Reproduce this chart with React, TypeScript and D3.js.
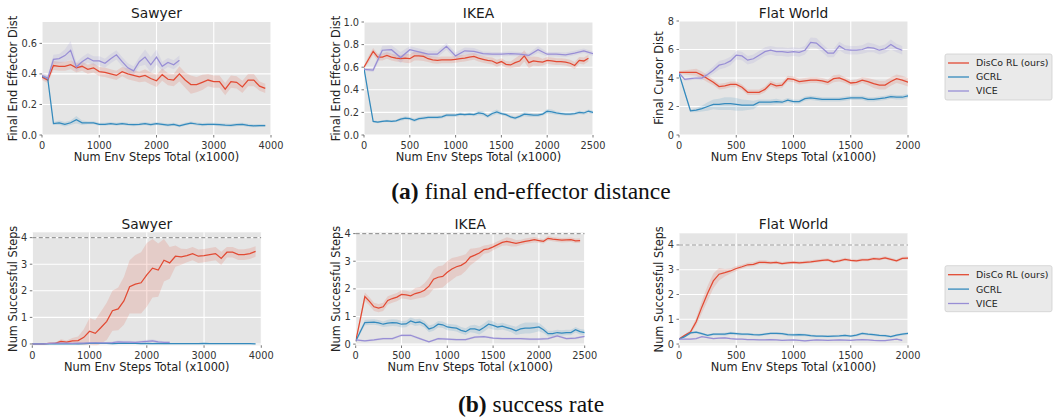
import React from 'react';
import * as d3 from 'd3';

const RED = '#E24A33';
const BLUE = '#348ABD';
const PURPLE = '#988ED5';

const legendLabels = ['DisCo RL (ours)', 'GCRL', 'VICE'];
const legendColors = [RED, BLUE, PURPLE];

// (a) final end-effector distance
const sawyerDistDisco = [0.38, 0.36, 0.455, 0.45, 0.45, 0.46, 0.44, 0.45, 0.43, 0.44, 0.415, 0.41, 0.40, 0.39, 0.415, 0.40, 0.39, 0.38, 0.39, 0.37, 0.355, 0.395, 0.365, 0.36, 0.40, 0.36, 0.33, 0.33, 0.345, 0.36, 0.35, 0.35, 0.30, 0.35, 0.345, 0.315, 0.36, 0.36, 0.32, 0.305];
const sawyerDistDiscoSd = [0.02, 0.02, 0.03, 0.03, 0.03, 0.03, 0.03, 0.03, 0.03, 0.03, 0.03, 0.03, 0.03, 0.03, 0.03, 0.035, 0.035, 0.035, 0.04, 0.04, 0.04, 0.04, 0.04, 0.04, 0.05, 0.05, 0.06, 0.05, 0.05, 0.04, 0.04, 0.04, 0.04, 0.04, 0.04, 0.04, 0.04, 0.04, 0.03, 0.03];
const sawyerDistGcrl = [0.385, 0.37, 0.075, 0.08, 0.07, 0.08, 0.10, 0.08, 0.08, 0.08, 0.07, 0.07, 0.075, 0.07, 0.075, 0.07, 0.068, 0.07, 0.075, 0.068, 0.075, 0.07, 0.065, 0.07, 0.06, 0.07, 0.078, 0.072, 0.068, 0.07, 0.07, 0.068, 0.065, 0.063, 0.068, 0.07, 0.063, 0.06, 0.062, 0.062];
const sawyerDistGcrlSd = [0.01, 0.01, 0.01, 0.015, 0.015, 0.015, 0.025, 0.015, 0.01, 0.01, 0.01, 0.01, 0.01, 0.01, 0.01, 0.01, 0.01, 0.01, 0.01, 0.01, 0.01, 0.01, 0.01, 0.01, 0.01, 0.01, 0.01, 0.01, 0.01, 0.01, 0.01, 0.01, 0.01, 0.01, 0.01, 0.01, 0.01, 0.01, 0.01, 0.01];
const sawyerDistVice = [0.39, 0.37, 0.495, 0.50, 0.52, 0.555, 0.445, 0.48, 0.505, 0.485, 0.485, 0.47, 0.50, 0.525, 0.48, 0.44, 0.42, 0.48, 0.51, 0.46, 0.51, 0.45, 0.475, 0.46, 0.49];
const sawyerDistViceSd = [0.02, 0.02, 0.03, 0.03, 0.04, 0.06, 0.03, 0.03, 0.03, 0.03, 0.03, 0.03, 0.03, 0.03, 0.03, 0.03, 0.03, 0.03, 0.05, 0.05, 0.05, 0.03, 0.03, 0.03, 0.03];

const ikeaDistDisco = [0.6, 0.67, 0.74, 0.69, 0.69, 0.705, 0.69, 0.68, 0.675, 0.68, 0.675, 0.70, 0.70, 0.695, 0.675, 0.665, 0.66, 0.665, 0.665, 0.665, 0.67, 0.675, 0.68, 0.69, 0.695, 0.68, 0.67, 0.66, 0.655, 0.635, 0.65, 0.625, 0.62, 0.64, 0.655, 0.70, 0.64, 0.655, 0.65, 0.645, 0.66, 0.655, 0.65, 0.65, 0.645, 0.635, 0.615, 0.66, 0.655, 0.68];
const ikeaDistDiscoSd = [0.01, 0.03, 0.03, 0.03, 0.03, 0.03, 0.03, 0.03, 0.03, 0.04, 0.04, 0.04, 0.04, 0.04, 0.03, 0.03, 0.03, 0.03, 0.03, 0.03, 0.03, 0.03, 0.03, 0.03, 0.03, 0.03, 0.03, 0.03, 0.03, 0.03, 0.03, 0.03, 0.03, 0.04, 0.05, 0.05, 0.05, 0.04, 0.04, 0.03, 0.03, 0.03, 0.03, 0.03, 0.03, 0.03, 0.03, 0.03, 0.03, 0.03];
const ikeaDistGcrl = [0.59, 0.35, 0.12, 0.115, 0.12, 0.125, 0.12, 0.125, 0.14, 0.15, 0.145, 0.13, 0.145, 0.15, 0.155, 0.155, 0.155, 0.16, 0.175, 0.175, 0.175, 0.185, 0.18, 0.185, 0.18, 0.195, 0.19, 0.165, 0.19, 0.205, 0.19, 0.18, 0.16, 0.15, 0.165, 0.185, 0.18, 0.175, 0.175, 0.185, 0.21, 0.205, 0.195, 0.19, 0.185, 0.185, 0.19, 0.20, 0.195, 0.21, 0.20];
const ikeaDistGcrlSd = [0.01, 0.01, 0.01, 0.01, 0.01, 0.01, 0.01, 0.01, 0.015, 0.015, 0.015, 0.015, 0.015, 0.015, 0.015, 0.015, 0.015, 0.015, 0.015, 0.015, 0.015, 0.015, 0.015, 0.015, 0.015, 0.02, 0.02, 0.015, 0.02, 0.02, 0.015, 0.015, 0.015, 0.015, 0.015, 0.02, 0.02, 0.015, 0.015, 0.015, 0.02, 0.02, 0.015, 0.015, 0.015, 0.015, 0.015, 0.015, 0.015, 0.015, 0.015];
const ikeaDistVice = [0.58, 0.575, 0.75, 0.755, 0.685, 0.755, 0.735, 0.715, 0.715, 0.785, 0.70, 0.745, 0.74, 0.72, 0.715, 0.715, 0.72, 0.715, 0.705, 0.755, 0.715, 0.715, 0.71, 0.725, 0.745, 0.72];
const ikeaDistViceSd = [0.01, 0.02, 0.04, 0.04, 0.05, 0.03, 0.03, 0.03, 0.03, 0.03, 0.03, 0.03, 0.03, 0.02, 0.02, 0.02, 0.02, 0.02, 0.02, 0.03, 0.02, 0.02, 0.02, 0.02, 0.02, 0.02];

const flatDistDisco = [4.4, 4.4, 4.4, 4.4, 4.2, 3.95, 3.7, 3.4, 3.45, 3.55, 3.55, 3.35, 3.0, 3.0, 3.0, 3.2, 3.6, 3.45, 3.5, 3.95, 3.9, 3.75, 3.8, 3.85, 3.85, 3.8, 3.7, 3.95, 4.0, 3.85, 3.65, 3.7, 3.85, 3.75, 3.6, 3.5, 3.5, 3.75, 3.95, 3.85, 3.7];
const flatDistDiscoSd = [0.1, 0.15, 0.2, 0.25, 0.25, 0.25, 0.2, 0.2, 0.2, 0.2, 0.2, 0.2, 0.2, 0.2, 0.2, 0.2, 0.2, 0.2, 0.2, 0.2, 0.2, 0.2, 0.2, 0.2, 0.2, 0.2, 0.2, 0.25, 0.25, 0.2, 0.2, 0.2, 0.2, 0.25, 0.3, 0.3, 0.3, 0.3, 0.3, 0.3, 0.3];
const flatDistGcrl = [4.3, 3.0, 1.7, 1.75, 1.85, 2.0, 2.15, 2.15, 2.2, 2.2, 2.15, 2.1, 2.1, 2.1, 2.3, 2.3, 2.3, 2.35, 2.3, 2.45, 2.35, 2.35, 2.55, 2.6, 2.55, 2.5, 2.5, 2.5, 2.5, 2.55, 2.6, 2.6, 2.6, 2.5, 2.5, 2.55, 2.6, 2.7, 2.65, 2.65, 2.75];
const flatDistGcrlSd = [0.05, 0.1, 0.1, 0.15, 0.2, 0.3, 0.35, 0.4, 0.45, 0.45, 0.45, 0.4, 0.35, 0.3, 0.2, 0.2, 0.2, 0.2, 0.15, 0.15, 0.15, 0.15, 0.15, 0.15, 0.15, 0.15, 0.15, 0.15, 0.15, 0.15, 0.15, 0.15, 0.15, 0.15, 0.15, 0.15, 0.15, 0.15, 0.15, 0.15, 0.15];
const flatDistVice = [4.35, 3.9, 3.95, 4.0, 4.0, 4.25, 4.55, 4.9, 5.0, 5.2, 5.6, 5.55, 5.25, 5.35, 5.6, 5.85, 5.95, 5.85, 5.85, 5.8, 5.85, 5.8, 5.95, 6.5, 6.45, 6.1, 5.75, 5.75, 6.25, 6.0, 5.95, 5.95, 6.0, 6.15, 6.1, 5.95, 6.05, 6.35, 6.1, 5.95];
const flatDistViceSd = [0.05, 0.1, 0.1, 0.1, 0.15, 0.2, 0.25, 0.3, 0.3, 0.3, 0.3, 0.3, 0.3, 0.3, 0.3, 0.3, 0.3, 0.3, 0.3, 0.3, 0.3, 0.3, 0.3, 0.35, 0.35, 0.3, 0.3, 0.3, 0.3, 0.3, 0.3, 0.3, 0.3, 0.35, 0.3, 0.3, 0.3, 0.35, 0.3, 0.3];

// (b) success rate
const sawyerSuccDisco = [0, 0, 0, 0.02, 0.02, 0.1, 0.07, 0.12, 0.13, 0.25, 0.48, 0.4, 0.62, 0.85, 1.25, 1.32, 1.62, 2.15, 2.25, 2.3, 2.6, 2.85, 2.78, 3.15, 3.05, 3.3, 3.28, 3.32, 3.4, 3.3, 3.32, 3.36, 3.4, 3.22, 3.45, 3.45, 3.36, 3.36, 3.4, 3.48];
const sawyerSuccDiscoSd = [0, 0, 0.01, 0.02, 0.03, 0.08, 0.06, 0.1, 0.15, 0.3, 0.5, 0.5, 0.6, 0.7, 0.75, 0.8, 0.9, 1.0, 1.1, 1.15, 1.2, 1.1, 1.0, 0.8, 0.6, 0.4, 0.3, 0.25, 0.25, 0.25, 0.25, 0.25, 0.25, 0.25, 0.2, 0.2, 0.2, 0.2, 0.2, 0.2];
const sawyerSuccGcrl = [0, 0, 0, 0, 0, 0, 0, 0, 0, 0.01, 0.02, 0.03, 0.02, 0.02, 0.01, 0.02, 0.03, 0.02, 0.02, 0.01, 0.02, 0.01, 0.02, 0.01, 0.01, 0.01, 0.01, 0.01, 0.01, 0.01, 0.02, 0.01, 0.01, 0.01, 0.01, 0.01, 0.01, 0.01, 0.01, 0];
const sawyerSuccGcrlSd = [0.01, 0.01, 0.01, 0.01, 0.01, 0.01, 0.01, 0.01, 0.01, 0.02, 0.02, 0.03, 0.02, 0.02, 0.02, 0.02, 0.03, 0.02, 0.02, 0.02, 0.02, 0.02, 0.02, 0.02, 0.02, 0.02, 0.02, 0.02, 0.02, 0.02, 0.02, 0.02, 0.02, 0.02, 0.02, 0.02, 0.02, 0.02, 0.02, 0.01];
const sawyerSuccVice = [0, 0, 0, 0.02, 0.03, 0.03, 0.03, 0.02, 0.03, 0.03, 0.04, 0.04, 0.04, 0.04, 0.05, 0.08, 0.07, 0.07, 0.06, 0.08, 0.1, 0.12, 0.08, 0.06, 0.06];
const sawyerSuccViceSd = [0.01, 0.01, 0.01, 0.02, 0.02, 0.02, 0.02, 0.02, 0.02, 0.03, 0.03, 0.03, 0.03, 0.03, 0.04, 0.05, 0.05, 0.05, 0.04, 0.05, 0.06, 0.06, 0.05, 0.04, 0.04];

const ikeaSuccDisco = [0.1, 0.9, 1.72, 1.55, 1.35, 1.3, 1.35, 1.58, 1.65, 1.7, 1.8, 1.78, 1.75, 1.83, 1.87, 1.95, 2.1, 2.35, 2.42, 2.45, 2.6, 2.72, 2.8, 2.85, 2.95, 3.15, 3.22, 3.3, 3.42, 3.45, 3.52, 3.6, 3.68, 3.72, 3.68, 3.65, 3.68, 3.72, 3.75, 3.78, 3.75, 3.72, 3.83, 3.8, 3.78, 3.76, 3.77, 3.78, 3.74, 3.75];
const ikeaSuccDiscoSd = [0.05, 0.1, 0.15, 0.15, 0.15, 0.15, 0.15, 0.15, 0.15, 0.15, 0.15, 0.15, 0.15, 0.2, 0.2, 0.25, 0.3, 0.35, 0.4, 0.4, 0.4, 0.4, 0.35, 0.35, 0.3, 0.3, 0.25, 0.2, 0.15, 0.15, 0.12, 0.12, 0.12, 0.15, 0.15, 0.12, 0.1, 0.1, 0.1, 0.1, 0.08, 0.08, 0.08, 0.08, 0.08, 0.08, 0.08, 0.08, 0.08, 0.08];
const ikeaSuccGcrl = [0.1, 0.45, 0.78, 0.79, 0.8, 0.77, 0.72, 0.76, 0.78, 0.77, 0.72, 0.73, 0.84, 0.78, 0.8, 0.72, 0.55, 0.6, 0.72, 0.7, 0.62, 0.6, 0.58, 0.5, 0.45, 0.55, 0.55, 0.5, 0.6, 0.72, 0.68, 0.62, 0.65, 0.6, 0.55, 0.48, 0.55, 0.58, 0.58, 0.6, 0.62, 0.52, 0.38, 0.38, 0.42, 0.4, 0.42, 0.42, 0.52, 0.45, 0.42];
const ikeaSuccGcrlSd = [0.05, 0.08, 0.1, 0.1, 0.1, 0.1, 0.1, 0.12, 0.12, 0.12, 0.12, 0.12, 0.12, 0.12, 0.12, 0.12, 0.12, 0.12, 0.12, 0.12, 0.12, 0.12, 0.12, 0.12, 0.12, 0.12, 0.15, 0.15, 0.15, 0.15, 0.15, 0.12, 0.12, 0.12, 0.12, 0.15, 0.18, 0.2, 0.2, 0.18, 0.15, 0.12, 0.1, 0.1, 0.1, 0.1, 0.1, 0.1, 0.1, 0.1, 0.1];
const ikeaSuccVice = [0.15, 0.12, 0.15, 0.2, 0.2, 0.32, 0.32, 0.2, 0.08, 0.2, 0.18, 0.16, 0.16, 0.25, 0.27, 0.22, 0.2, 0.2, 0.2, 0.18, 0.18, 0.2, 0.3, 0.2, 0.22, 0.28];
const ikeaSuccViceSd = [0.03, 0.03, 0.04, 0.04, 0.04, 0.05, 0.05, 0.04, 0.03, 0.04, 0.04, 0.04, 0.04, 0.04, 0.04, 0.04, 0.04, 0.04, 0.04, 0.04, 0.04, 0.04, 0.04, 0.04, 0.04, 0.04];

const flatSuccDisco = [0.2, 0.35, 0.48, 0.9, 1.5, 2.05, 2.55, 2.82, 2.88, 2.95, 3.05, 3.12, 3.2, 3.22, 3.3, 3.3, 3.28, 3.3, 3.25, 3.28, 3.3, 3.28, 3.3, 3.32, 3.35, 3.38, 3.4, 3.32, 3.36, 3.42, 3.38, 3.36, 3.4, 3.4, 3.45, 3.43, 3.48, 3.42, 3.36, 3.46, 3.47];
const flatSuccDiscoSd = [0.02, 0.05, 0.08, 0.15, 0.25, 0.3, 0.3, 0.25, 0.15, 0.1, 0.1, 0.08, 0.08, 0.08, 0.08, 0.08, 0.06, 0.06, 0.06, 0.06, 0.06, 0.06, 0.06, 0.06, 0.06, 0.06, 0.06, 0.06, 0.06, 0.06, 0.06, 0.06, 0.06, 0.06, 0.06, 0.06, 0.06, 0.06, 0.06, 0.06, 0.06];
const flatSuccGcrl = [0.2, 0.3, 0.45, 0.48, 0.42, 0.35, 0.4, 0.4, 0.4, 0.44, 0.42, 0.4, 0.4, 0.38, 0.37, 0.4, 0.43, 0.43, 0.42, 0.38, 0.37, 0.38, 0.37, 0.34, 0.32, 0.32, 0.31, 0.32, 0.33, 0.35, 0.32, 0.36, 0.43, 0.4, 0.38, 0.35, 0.34, 0.3, 0.36, 0.4, 0.43];
const flatSuccGcrlSd = [0.03, 0.04, 0.05, 0.05, 0.05, 0.05, 0.05, 0.05, 0.06, 0.06, 0.06, 0.05, 0.05, 0.05, 0.05, 0.05, 0.05, 0.05, 0.05, 0.06, 0.06, 0.06, 0.05, 0.05, 0.05, 0.05, 0.05, 0.05, 0.05, 0.05, 0.05, 0.05, 0.05, 0.05, 0.05, 0.05, 0.05, 0.05, 0.05, 0.05, 0.05];
const flatSuccVice = [0.2, 0.2, 0.2, 0.22, 0.3, 0.26, 0.22, 0.24, 0.25, 0.22, 0.2, 0.2, 0.18, 0.18, 0.17, 0.17, 0.18, 0.17, 0.15, 0.16, 0.17, 0.15, 0.13, 0.15, 0.17, 0.16, 0.15, 0.16, 0.17, 0.16, 0.15, 0.17, 0.18, 0.17, 0.15, 0.14, 0.14, 0.17, 0.2, 0.15];
const flatSuccViceSd = [0.02, 0.02, 0.03, 0.03, 0.03, 0.03, 0.03, 0.03, 0.03, 0.03, 0.03, 0.03, 0.03, 0.03, 0.03, 0.03, 0.03, 0.03, 0.03, 0.03, 0.03, 0.03, 0.03, 0.03, 0.03, 0.03, 0.03, 0.03, 0.03, 0.03, 0.03, 0.03, 0.03, 0.03, 0.03, 0.03, 0.03, 0.03, 0.03, 0.03];

const sawyerXTicks = [0, 1000, 2000, 3000, 4000];
const ikeaXTicks = [0, 500, 1000, 1500, 2000, 2500];
const flatXTicks = [0, 500, 1000, 1500, 2000];
const sawyerDistYTicks = [0, 0.2, 0.4, 0.6];
const ikeaDistYTicks = [0, 0.2, 0.4, 0.6, 0.8, 1.0];
const flatDistYTicks = [0, 2, 4, 6, 8];
const succYTicks = [0, 1, 2, 3, 4];
const GOAL = 4;

type Series = { values: number[]; spread: number[]; step: number; color: string };
type PanelSpec = {
  id: string; left: number; top: number; width: number; height: number;
  xMax: number; yDomain: [number, number]; xTicks: number[]; yTicks: number[];
  yFmt: (v: number) => string; title: string; titleY: number; ylabel: string;
  ylabelGap: number; goal?: number; series: Series[];
};

const s = (values: number[], spread: number[], step: number, color: string): Series => ({ values, spread, step, color });
const f1 = d3.format('.1f');
const fi = d3.format('d');
const XLABEL = 'Num Env Steps Total (x1000)';
const FONT = 'DejaVu Sans';

const panels: PanelSpec[] = [
  { id: 'p1', left: 42, top: 22, width: 229, height: 113, xMax: 4000, yDomain: [0, 0.74], xTicks: sawyerXTicks, yTicks: sawyerDistYTicks, yFmt: f1, title: 'Sawyer', titleY: 17.5, ylabel: 'Final End Effector Dist', ylabelGap: 24.6,
    series: [s(sawyerDistDisco, sawyerDistDiscoSd, 100, RED), s(sawyerDistGcrl, sawyerDistGcrlSd, 100, BLUE), s(sawyerDistVice, sawyerDistViceSd, 100, PURPLE)] },
  { id: 'p2', left: 364, top: 22, width: 229, height: 113, xMax: 2500, yDomain: [0, 1.0], xTicks: ikeaXTicks, yTicks: ikeaDistYTicks, yFmt: f1, title: 'IKEA', titleY: 17.5, ylabel: 'Final End Effector Dist', ylabelGap: 24,
    series: [s(ikeaDistDisco, ikeaDistDiscoSd, 50, RED), s(ikeaDistGcrl, ikeaDistGcrlSd, 50, BLUE), s(ikeaDistVice, ikeaDistViceSd, 100, PURPLE)] },
  { id: 'p3', left: 679, top: 21, width: 229, height: 114, xMax: 2000, yDomain: [0, 8], xTicks: flatXTicks, yTicks: flatDistYTicks, yFmt: fi, title: 'Flat World', titleY: 17.5, ylabel: 'Final Cursor Dist', ylabelGap: 15.7,
    series: [s(flatDistDisco, flatDistDiscoSd, 50, RED), s(flatDistGcrl, flatDistGcrlSd, 50, BLUE), s(flatDistVice, flatDistViceSd, 50, PURPLE)] },
  { id: 'p4', left: 32.3, top: 232.3, width: 229, height: 113, xMax: 4000, yDomain: [-0.05, 4.2], xTicks: sawyerXTicks, yTicks: succYTicks, yFmt: fi, title: 'Sawyer', titleY: 229, ylabel: 'Num Successful Steps', ylabelGap: 15.6, goal: GOAL,
    series: [s(sawyerSuccDisco, sawyerSuccDiscoSd, 100, RED), s(sawyerSuccGcrl, sawyerSuccGcrlSd, 100, BLUE), s(sawyerSuccVice, sawyerSuccViceSd, 100, PURPLE)] },
  { id: 'p5', left: 355.7, top: 232.5, width: 229, height: 113, xMax: 2500, yDomain: [-0.05, 4.04], xTicks: ikeaXTicks, yTicks: succYTicks, yFmt: fi, title: 'IKEA', titleY: 229, ylabel: 'Num Successful Steps', ylabelGap: 15.7, goal: GOAL,
    series: [s(ikeaSuccDisco, ikeaSuccDiscoSd, 50, RED), s(ikeaSuccGcrl, ikeaSuccGcrlSd, 50, BLUE), s(ikeaSuccVice, ikeaSuccViceSd, 100, PURPLE)] },
  { id: 'p6', left: 679, top: 233.3, width: 229, height: 112, xMax: 2000, yDomain: [-0.05, 4.47], xTicks: flatXTicks, yTicks: succYTicks, yFmt: fi, title: 'Flat World', titleY: 229, ylabel: 'Num Successful Steps', ylabelGap: 16, goal: GOAL,
    series: [s(flatSuccDisco, flatSuccDiscoSd, 50, RED), s(flatSuccGcrl, flatSuccGcrlSd, 50, BLUE), s(flatSuccVice, flatSuccViceSd, 50, PURPLE)] },
];

function Panel({ p }: { p: PanelSpec }) {
  const x = d3.scaleLinear().domain([0, p.xMax]).range([p.left, p.left + p.width]);
  const y = d3.scaleLinear().domain(p.yDomain).range([p.top + p.height, p.top]);
  const bottom = p.top + p.height;
  const cx = p.left + p.width / 2;
  const cy = p.top + p.height / 2;

  return (
    <g>
      <defs>
        <clipPath id={`clip-${p.id}`}>
          <rect x={p.left} y={p.top} width={p.width} height={p.height} />
        </clipPath>
      </defs>
      <rect x={p.left} y={p.top} width={p.width} height={p.height} fill="#E5E5E5" />
      {p.xTicks.map((t) => (
        <line key={`gx${t}`} x1={x(t)} x2={x(t)} y1={p.top} y2={bottom} stroke="#fff" strokeWidth={1.1} />
      ))}
      {p.yTicks.map((t) => (
        <line key={`gy${t}`} x1={p.left} x2={p.left + p.width} y1={y(t)} y2={y(t)} stroke="#fff" strokeWidth={1.1} />
      ))}
      <g clipPath={`url(#clip-${p.id})`}>
        {p.series.map((sr, i) => {
          const pts = sr.values.map((v, j) => ({ x: j * sr.step, v, sd: sr.spread[j] }));
          const area = d3.area<typeof pts[0]>().x((d) => x(d.x)).y0((d) => y(d.v - d.sd)).y1((d) => y(d.v + d.sd));
          return <path key={`a${i}`} d={area(pts) || ''} fill={sr.color} fillOpacity={0.16} />;
        })}
        {p.goal !== undefined && (
          <line x1={p.left} x2={p.left + p.width} y1={y(p.goal)} y2={y(p.goal)} stroke="#999" strokeWidth={1.1} strokeDasharray="4,2.5" />
        )}
        {p.series.map((sr, i) => {
          const pts = sr.values.map((v, j) => [x(j * sr.step), y(v)] as [number, number]);
          return <path key={`l${i}`} d={d3.line()(pts) || ''} fill="none" stroke={sr.color} strokeWidth={1.25} />;
        })}
      </g>
      {p.xTicks.map((t) => (
        <g key={`tx${t}`}>
          <line x1={x(t)} x2={x(t)} y1={bottom} y2={bottom + 2.5} stroke="#555" strokeWidth={0.8} />
          <text x={x(t)} y={bottom + 13.5} textAnchor="middle" fontSize={9.8} fill="#333" fontFamily={FONT}>{t}</text>
        </g>
      ))}
      {p.yTicks.map((t) => (
        <g key={`ty${t}`}>
          <line x1={p.left - 2.5} x2={p.left} y1={y(t)} y2={y(t)} stroke="#555" strokeWidth={0.8} />
          <text x={p.left - 5} y={y(t) + 3.5} textAnchor="end" fontSize={9.8} fill="#333" fontFamily={FONT}>{p.yFmt(t)}</text>
        </g>
      ))}
      <text x={cx} y={p.titleY} textAnchor="middle" fontSize={13.8} fill="#1a1a1a" fontFamily={FONT}>{p.title}</text>
      <text x={cx} y={bottom + 25.5} textAnchor="middle" fontSize={11.4} fill="#222" fontFamily={FONT}>{XLABEL}</text>
      <text transform={`translate(${p.left - p.ylabelGap},${cy}) rotate(-90)`} textAnchor="middle" fontSize={11.4} fill="#222" fontFamily={FONT}>{p.ylabel}</text>
    </g>
  );
}

function Legend({ left, top, rowGap }: { left: number; top: number; rowGap: number }) {
  return (
    <g>
      <rect x={left} y={top} width={107} height={46} fill="#EAEAEA" stroke="#CFCFCF" strokeWidth={0.8} rx={2} />
      {legendLabels.map((lab, i) => {
        const yy = top + 9 + i * rowGap;
        return (
          <g key={lab}>
            <line x1={left + 3} x2={left + 24} y1={yy} y2={yy} stroke={legendColors[i]} strokeWidth={1.3} />
            <text x={left + 31} y={yy + 3.4} fontSize={9.4} fill="#222" fontFamily={FONT}>{lab}</text>
          </g>
        );
      })}
    </g>
  );
}

export default function App() {
  return (
    <div style={{ position: 'absolute', left: 0, top: 0 }}>
      <svg width={1053} height={418} style={{ display: 'block', background: '#fff' }}>
        {panels.map((p) => <Panel key={p.id} p={p} />)}
        <Legend left={945} top={54} rowGap={14} />
        <Legend left={945} top={265.7} rowGap={14.4} />
        <text x={531} y={199} textAnchor="middle" fontSize={23.5} fontFamily="Liberation Serif" fill="#111">
          <tspan fontWeight="bold">(a)</tspan> final end-effector distance
        </text>
        <text x={531} y={412} textAnchor="middle" fontSize={23.5} fontFamily="Liberation Serif" fill="#111">
          <tspan fontWeight="bold">(b)</tspan> success rate
        </text>
      </svg>
    </div>
  );
}
